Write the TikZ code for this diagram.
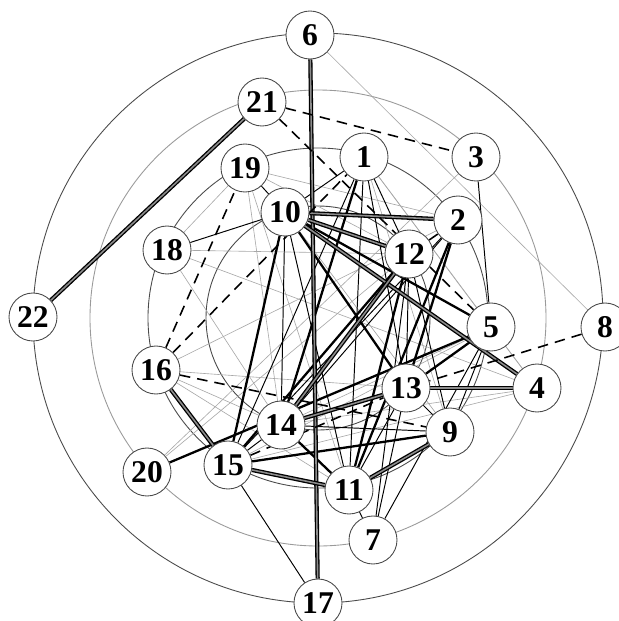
\documentclass[tikz,border=0pt]{standalone}
\usepackage{fontspec}
\setmainfont{Liberation Serif}
\usetikzlibrary{backgrounds}
\definecolor{ringdark}{HTML}{4A4A4A}
\definecolor{ringpale}{HTML}{9A9A9A}
\definecolor{edgepale}{HTML}{A8A8A8}

\begin{document}
\begin{tikzpicture}[x=0.2mm,y=-0.2mm,
 nd/.style={circle,draw=ringdark,line width=0.5pt,fill=white,minimum size=9.6mm,inner sep=0pt,font=\fontsize{18}{18}\selectfont\bfseries},
 ring/.style={draw=ringdark,line width=0.5pt},
 lgt/.style={draw=edgepale,line width=0.35pt},
 thn/.style={draw=black,line width=0.55pt},
 thk/.style={draw=black,line width=1.3pt},
 dbl/.style={draw=black,line width=0.75pt,double=black!45,double distance=0.9pt},
 dsh/.style={draw=black,line width=0.9pt,dash pattern=on 6pt off 4pt}]
 \useasboundingbox (0,0) rectangle (619,621);
 % nodes
 \node[nd] (n6) at (310,35) {6};
 \node[nd] (n21) at (262,102) {21};
 \node[nd] (n1) at (364,157) {1};
 \node[nd] (n3) at (476,157) {3};
 \node[nd] (n19) at (245,168) {19};
 \node[nd] (n10) at (285,212) {10};
 \node[nd] (n2) at (458,220) {2};
 \node[nd] (n12) at (409,254) {12};
 \node[nd] (n18) at (167,250) {18};
 \node[nd] (n22) at (33,317) {22};
 \node[nd] (n8) at (605,327) {8};
 \node[nd] (n5) at (491,327) {5};
 \node[nd] (n16) at (156,370) {16};
 \node[nd] (n4) at (537,388) {4};
 \node[nd] (n13) at (406,388) {13};
 \node[nd] (n9) at (450,432) {9};
 \node[nd] (n14) at (281,425) {14};
 \node[nd] (n20) at (147,472) {20};
 \node[nd] (n15) at (228,465) {15};
 \node[nd] (n11) at (349,490) {11};
 \node[nd] (n7) at (373,540) {7};
 \node[nd] (n17) at (318,603) {17};
 \begin{scope}[on background layer]
 \fill[white] (0,0) rectangle (619,621);
 % rings
 \draw[ring] (318,318) circle[radius=57mm];
 \draw[ring,draw=ringpale] (318,318) circle[radius=45.6mm];
 \draw[ring] (318,318) circle[radius=34mm];
 \draw[ring] (318,318) circle[radius=22.4mm];
 % links
 \foreach \x/\y in {n6/n8,n18/n19,n18/n4,n18/n14,n19/n2,n19/n14,n19/n11,n20/n3,n16/n14,n16/n13,
   n1/n5,n1/n4,n4/n14,n4/n15,n18/n12,n19/n12,n16/n2,n1/n9,n20/n12,n10/n9,n16/n11,n14/n5,n15/n5,n5/n4}
   \draw[lgt] (\x)--(\y);
 \foreach \x/\y in {n1/n12,n1/n13,n1/n15,n3/n5,n5/n7,n5/n9,n11/n7,n15/n17,n13/n11,n13/n9,n12/n13,
   n12/n9,n10/n11,n10/n14,n14/n9,n18/n10,n14/n15,n13/n7,n1/n11,n2/n14,n19/n10,n2/n15,n12/n7,n1/n10}
   \draw[thn] (\x)--(\y);
 \foreach \x/\y in {n10/n13,n10/n5,n10/n15,n12/n15,n1/n14,n2/n13,n2/n11,n5/n13,n20/n5,n15/n9,
   n12/n11,n14/n11}
   \draw[thk] (\x)--(\y);
 \foreach \x/\y in {n21/n22,n6/n17,n10/n2,n10/n12,n10/n4,n12/n14,n14/n13,n15/n11,n9/n11,n13/n4,n16/n15}
   \draw[dbl] (\x)--(\y);
 \foreach \x/\y in {n21/n3,n21/n5,n16/n1,n16/n19,n16/n9,n15/n13,n8/n13,n12/n2}
   \draw[dsh] (\x)--(\y);
 \end{scope}
\end{tikzpicture}
\end{document}
